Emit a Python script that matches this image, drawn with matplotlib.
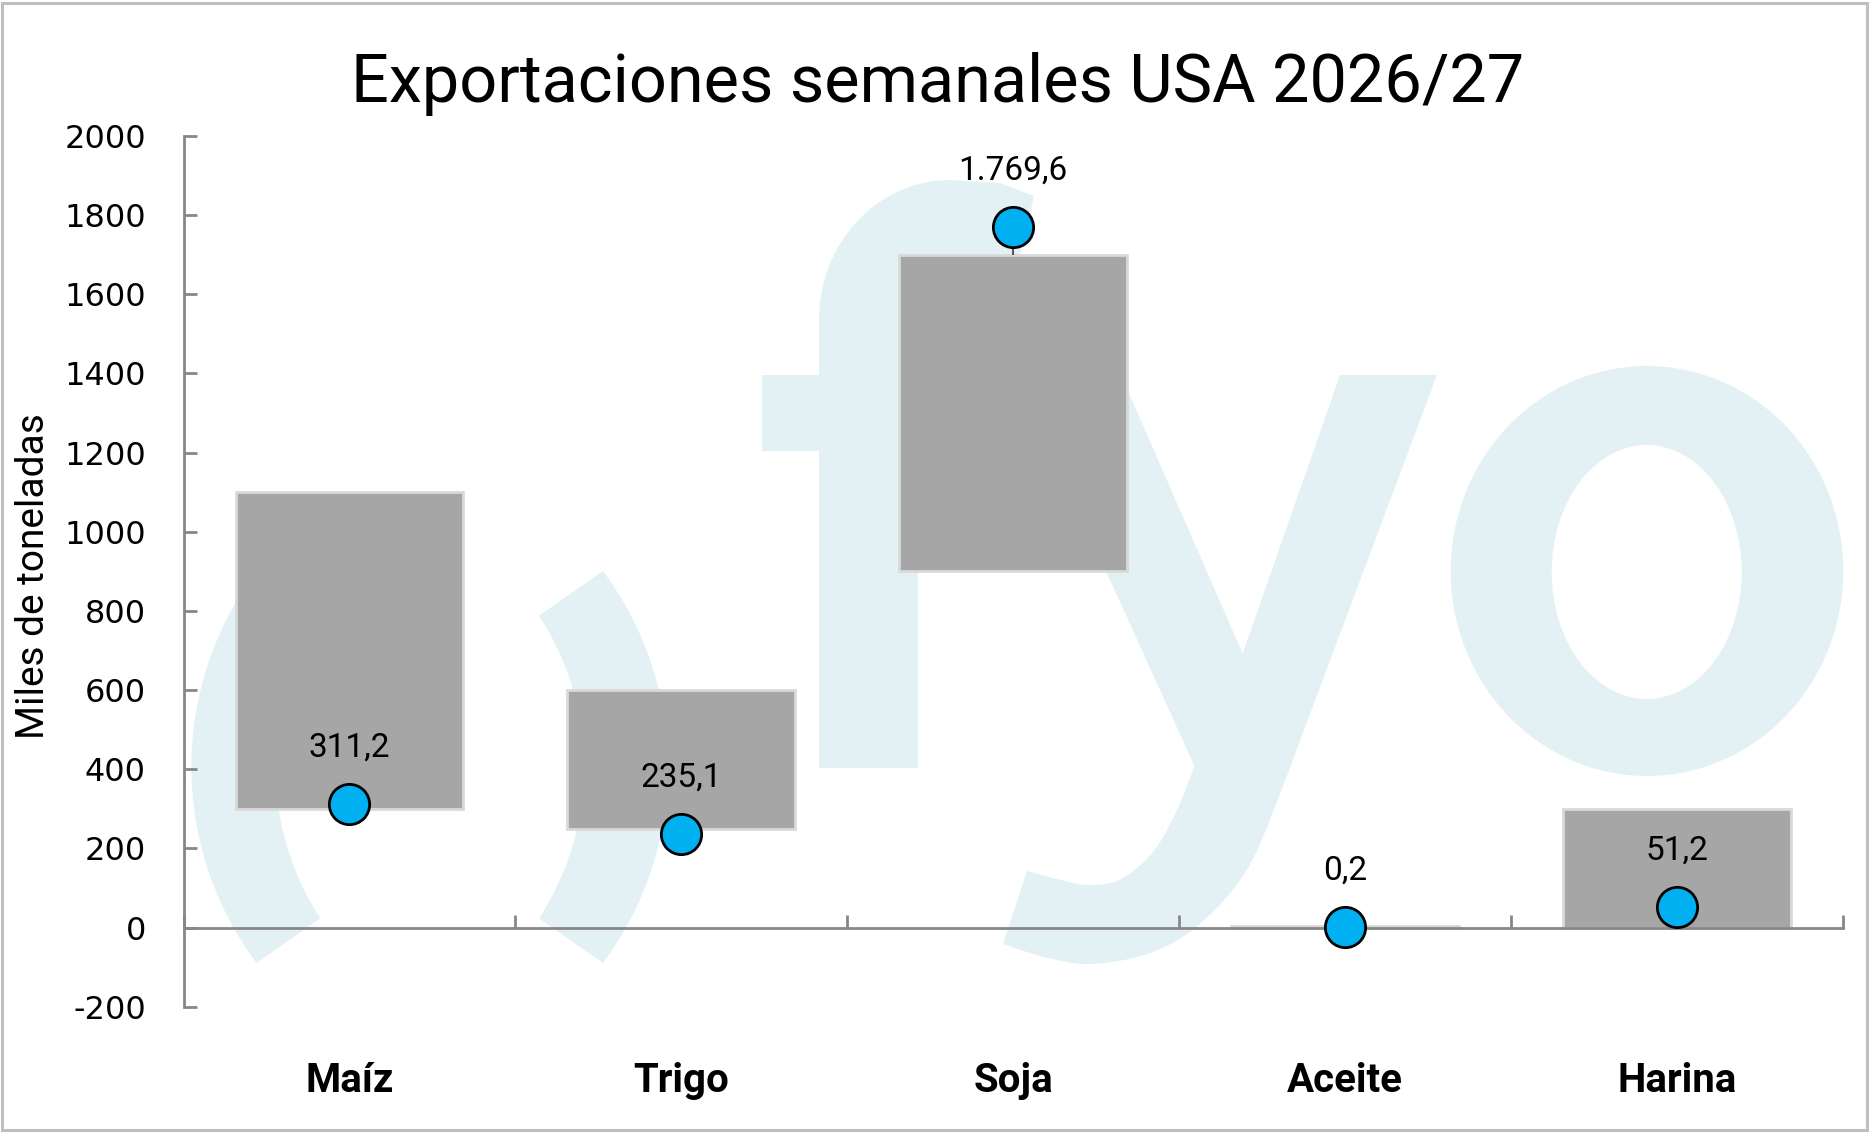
import numpy as np
import matplotlib
matplotlib.use("Agg")
import matplotlib.pyplot as plt
from matplotlib.patches import Polygon, Ellipse, Rectangle

plt.rcParams["axes.unicode_minus"] = False

# data
categories = ["Maíz", "Trigo", "Soja", "Aceite", "Harina"]
range_low = [300, 250, 900, 0, 0]
range_high = [1100, 600, 1700, 5, 300]
weekly = [311.2, 235.1, 1769.6, 0.2, 51.2]
weekly_labels = ["311,2", "235,1", "1.769,6", "0,2", "51,2"]
y_ticks = [-200, 0, 200, 400, 600, 800, 1000, 1200, 1400, 1600, 1800, 2000]
title = "Exportaciones semanales USA 2026/27"
y_title = "Miles de toneladas"

W, H = 1870, 1133
WM = "#E3F1F5"
AXIS = "#878787"

fig = plt.figure(figsize=(W / 100, H / 100), dpi=100)

# background logo watermark, drawn in pixel coords
bg = fig.add_axes([0, 0, 1, 1], zorder=0)
bg.set_xlim(0, W)
bg.set_ylim(H, 0)
bg.axis("off")


def smooth(pts, n=12):
    # catmull-rom through the given points
    p = np.asarray(pts, dtype=float)
    p = np.vstack([p[0], p, p[-1]])
    out = []
    for i in range(1, len(p) - 2):
        p0, p1, p2, p3 = p[i - 1], p[i], p[i + 1], p[i + 2]
        for t in np.linspace(0, 1, n, endpoint=False):
            out.append(0.5 * ((2 * p1) + (-p0 + p2) * t
                              + (2 * p0 - 5 * p1 + 4 * p2 - p3) * t ** 2
                              + (-p0 + 3 * p1 - 3 * p2 + p3) * t ** 3))
    out.append(p[-2])
    return np.array(out)


def paren(mirror):
    a = np.arcsin(196.0 / 327.7)
    b = np.arcsin(151.3 / 276.9)
    t1 = np.linspace(-a, a, 60)
    t2 = np.linspace(b, -b, 60)
    xs = np.concatenate([340.3 + 327.7 * np.cos(t1), 307.1 + 276.9 * np.cos(t2)])
    ys = np.concatenate([767 + 327.7 * np.sin(t1), 767 + 276.9 * np.sin(t2)])
    if mirror:
        xs = 859.4 - xs
    return np.column_stack([xs, ys])


bg.add_patch(Polygon(paren(False), closed=True, fc=WM, ec="none"))
bg.add_patch(Polygon(paren(True), closed=True, fc=WM, ec="none"))

# f
t = np.linspace(np.pi, 1.5 * np.pi, 30)
arch = np.column_stack([950 + 131 * np.cos(t), 320 + 140 * np.sin(t)])
f_pts = np.vstack([
    [[819, 768], [819, 451], [762, 451], [762, 375], [819, 375]],
    arch,
    [[1000, 183], [1034, 196], [1020, 255], [960, 255], [918, 320],
     [918, 375], [975, 375], [975, 451], [918, 451], [918, 768]],
])
bg.add_patch(Polygon(f_pts, closed=True, fc=WM, ec="none"))

# y
y_outer = smooth([[1282, 789], [1248, 868], [1202, 922], [1153, 952],
                  [1093, 964], [1048, 958], [1003, 944]])
y_inner = smooth([[1027, 871], [1061, 880], [1089, 885], [1121, 879],
                  [1153, 852], [1176, 812], [1194.5, 766]])
y_pts = np.vstack([
    [[1017, 375], [1121, 375], [1242.7, 653.5], [1340, 375], [1437, 375]],
    y_outer, y_inner,
])
bg.add_patch(Polygon(y_pts, closed=True, fc=WM, ec="none"))

# o
bg.add_patch(Ellipse((1647, 571), 392.6, 410, fc=WM, ec="none"))
bg.add_patch(Ellipse((1646.7, 572), 190, 254, fc="white", ec="none"))

# main chart
ax = fig.add_axes([183.5 / W, 126.3 / H, (1842.6 - 183.5) / W, (997 - 126.3) / H], zorder=1)
ax.patch.set_alpha(0)

x = np.arange(1, len(categories) + 1)
heights = np.array(range_high) - np.array(range_low)
ax.bar(x, heights, bottom=range_low, width=0.686, color="#A6A6A6",
       edgecolor="#D9D9D9", linewidth=2, zorder=2)

for xi, hi, v in zip(x, range_high, weekly):
    if v > hi:
        ax.vlines(xi, hi, v, color="#595959", lw=1.5, zorder=3)

ax.plot(x, weekly, "o", ms=29, mfc="#00B0F0", mec="black", mew=2, zorder=4)

for xi, v, lab in zip(x, weekly, weekly_labels):
    ax.annotate(lab, (xi, v), xytext=(0, 34.5), textcoords="offset points",
                ha="center", va="baseline", fontsize=24, family="Roboto",
                color="black", zorder=5)

ax.set_xlim(0.5, 5.5)
ax.set_ylim(-200, 2000)

for s in ["top", "right"]:
    ax.spines[s].set_visible(False)
for s in ["left", "bottom"]:
    ax.spines[s].set_color(AXIS)
    ax.spines[s].set_linewidth(2)
ax.spines["bottom"].set_position(("data", 0))

ax.set_xticks(np.arange(0.5, 6, 1))
ax.set_xticklabels([])
ax.tick_params(axis="x", direction="in", length=9.5, width=2, color=AXIS)
ax.set_yticks(y_ticks)
ax.tick_params(axis="y", direction="in", length=9, width=2, color=AXIS,
               labelsize=23, pad=27)

sec = ax.secondary_xaxis(0)
sec.set_xticks(x, categories)
sec.tick_params(length=0, pad=40)
sec.spines["bottom"].set_visible(False)
for lab in sec.get_xticklabels():
    lab.set_family("Roboto")
    lab.set_fontweight("bold")
    lab.set_fontsize(29)

fig.text(938 / W, 1 - 101.7 / H, title, ha="center", va="baseline",
         fontsize=48, family="Roboto")
fig.text(34 / W, 1 - 576 / H, y_title, rotation=90, ha="center", va="center",
         fontsize=28, family="Roboto")

fig.patches.append(Rectangle((2 / W, 3 / H), (1866.5 - 2) / W, (1130 - 3) / H,
                             transform=fig.transFigure, fill=False,
                             ec="#BFBFBF", lw=2.2))

fig.savefig("out.png", dpi=100)
